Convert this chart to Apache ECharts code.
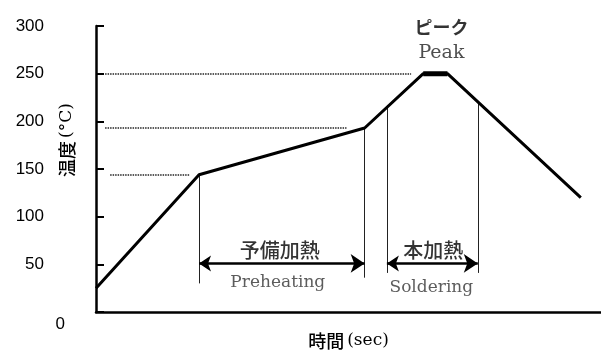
<!DOCTYPE html>
<html>
<head>
<meta charset="utf-8">
<script src="https://cdn.jsdelivr.net/npm/echarts@6/dist/echarts.min.js"></script>
<style>
  html, body { margin: 0; padding: 0; background: #fff; }
  #chart { width: 601px; height: 354px; }
</style>
</head>
<body>
<div id="chart"></div>
<script>
// reflow profile (time in sec, temp in °C)
const profileTime = [0, 51, 133, 162, 174, 240]
const profileTemp = [25, 144, 193, 250, 250, 120]
const peakTime = [162, 174]
const peakTemp = [250, 250]

// dotted guide lines to the y axis: [fromTime, toTime, temp]
const guideFrom = [4.5, 4.5, 7]
const guideTo = [156, 124, 46.5]
const guideTemp = [250, 193, 144]

// vertical markers: time, top temp, bottom temp
const markerTime = [51, 133, 144, 189]
const markerTop = [144, 193, 215, 219]
const markerBottom = [30, 36, 41, 41]

// double arrows
const arrowFrom = [51, 144]
const arrowTo = [133, 189]
const arrowTemp = [51, 51]

// text annotations
const noteText = ['予備加熱', 'Preheating', '本加熱', 'Soldering', 'ピーク', 'Peak']
const noteTime = [91, 90, 167, 166, 171, 171]
const noteTemp = [64.5, 31, 64.5, 26, 299, 272]
const noteKind = ['jp', 'en', 'jp', 'en', 'jpBold', 'enBig']

const yTicks = [0, 50, 100, 150, 200, 250, 300]

const chart = echarts.init(document.getElementById('chart'))

const noteStyles = {
  jp: { fontFamily: 'Noto Sans CJK JP', fontSize: 20, fontWeight: 500, color: '#000' },
  jpBold: { fontFamily: 'Noto Sans CJK JP', fontSize: 18, fontWeight: 'bold', color: '#000' },
  en: { fontFamily: 'DejaVu Serif', fontSize: 17, color: '#333' },
  enBig: { fontFamily: 'DejaVu Serif', fontSize: 19, color: '#222' }
}

// 日本語 + serif 括弧部分
const nameRich = {
  a: { fontFamily: 'Noto Sans CJK JP', fontSize: 18, fontWeight: 500, color: '#000', padding: [0, 3, 0, 0] },
  b: { fontFamily: 'DejaVu Serif', fontSize: 17, color: '#000' }
}

chart.setOption({
  animation: false,
  grid: { left: 96, right: 0, top: 26, bottom: 42, outerBoundsMode: 'none', containLabel: false },
  xAxis: {
    type: 'value',
    min: 0,
    max: 250,
    name: '{a|時間}{b|(sec)}',
    nameLocation: 'middle',
    nameGap: 20,
    nameMoveOverlap: false,
    nameTextStyle: { rich: nameRich },
    axisLine: { lineStyle: { color: '#000', width: 2.5 } },
    axisTick: { show: false },
    splitLine: { show: false },
    axisLabel: {
      showMinLabel: true,
      showMaxLabel: false,
      margin: 4,
      align: 'right',
      formatter: v => (v === 0 ? '{z|0}' : ''),
      rich: {
        z: { fontFamily: 'Liberation Sans', fontSize: 17, color: '#000', padding: [0, 31, 0, 0] }
      }
    }
  },
  yAxis: {
    type: 'value',
    min: 0,
    max: 300,
    interval: 50,
    name: '{a|温度}{b|(°C)}',
    nameLocation: 'middle',
    nameGap: 20,
    nameRotate: 90,
    nameMoveOverlap: false,
    nameTextStyle: {
      rich: nameRich,
      padding: [0, 0, 0, 58]
    },
    axisLine: { show: true, lineStyle: { color: '#000', width: 2.5 } },
    axisTick: { show: true, inside: true, length: 8, lineStyle: { color: '#000', width: 2 } },
    splitLine: { show: false },
    axisLabel: {
      margin: 52,
      fontFamily: 'Liberation Sans',
      fontSize: 17,
      color: '#000',
      formatter: v => (v === 0 ? '' : String(v))
    }
  },
  series: [
    {
      type: 'line',
      data: profileTime.map((t, i) => [t, profileTemp[i]]),
      symbol: 'none',
      lineStyle: { color: '#000', width: 3 },
      z: 5
    },
    {
      type: 'line',
      data: peakTime.map((t, i) => [t, peakTemp[i]]),
      symbol: 'none',
      lineStyle: { color: '#000', width: 5 },
      z: 5
    },
    {
      type: 'lines',
      coordinateSystem: 'cartesian2d',
      symbol: 'none',
      lineStyle: { color: '#222', width: 1.6, type: [1.5, 1], opacity: 1 },
      data: guideTemp.map((v, i) => ({ coords: [[guideFrom[i], v], [guideTo[i], v]] }))
    },
    {
      type: 'lines',
      coordinateSystem: 'cartesian2d',
      symbol: 'none',
      lineStyle: { color: '#222', width: 1, opacity: 1 },
      data: markerTime.map((t, i) => ({ coords: [[t, markerTop[i]], [t, markerBottom[i]]] }))
    },
    {
      type: 'lines',
      coordinateSystem: 'cartesian2d',
      symbol: ['arrow', 'arrow'],
      symbolSize: [12, 14],
      lineStyle: { color: '#000', width: 2.5, opacity: 1 },
      data: arrowTemp.map((v, i) => ({ coords: [[arrowFrom[i], v], [arrowTo[i], v]] }))
    },
    {
      type: 'scatter',
      symbolSize: 0,
      data: noteText.map((s, i) => ({
        name: s,
        value: [noteTime[i], noteTemp[i]],
        label: Object.assign({ show: true, position: 'inside', formatter: '{b}' }, noteStyles[noteKind[i]])
      })),
      z: 10
    }
  ]
})
</script>
</body>
</html>
